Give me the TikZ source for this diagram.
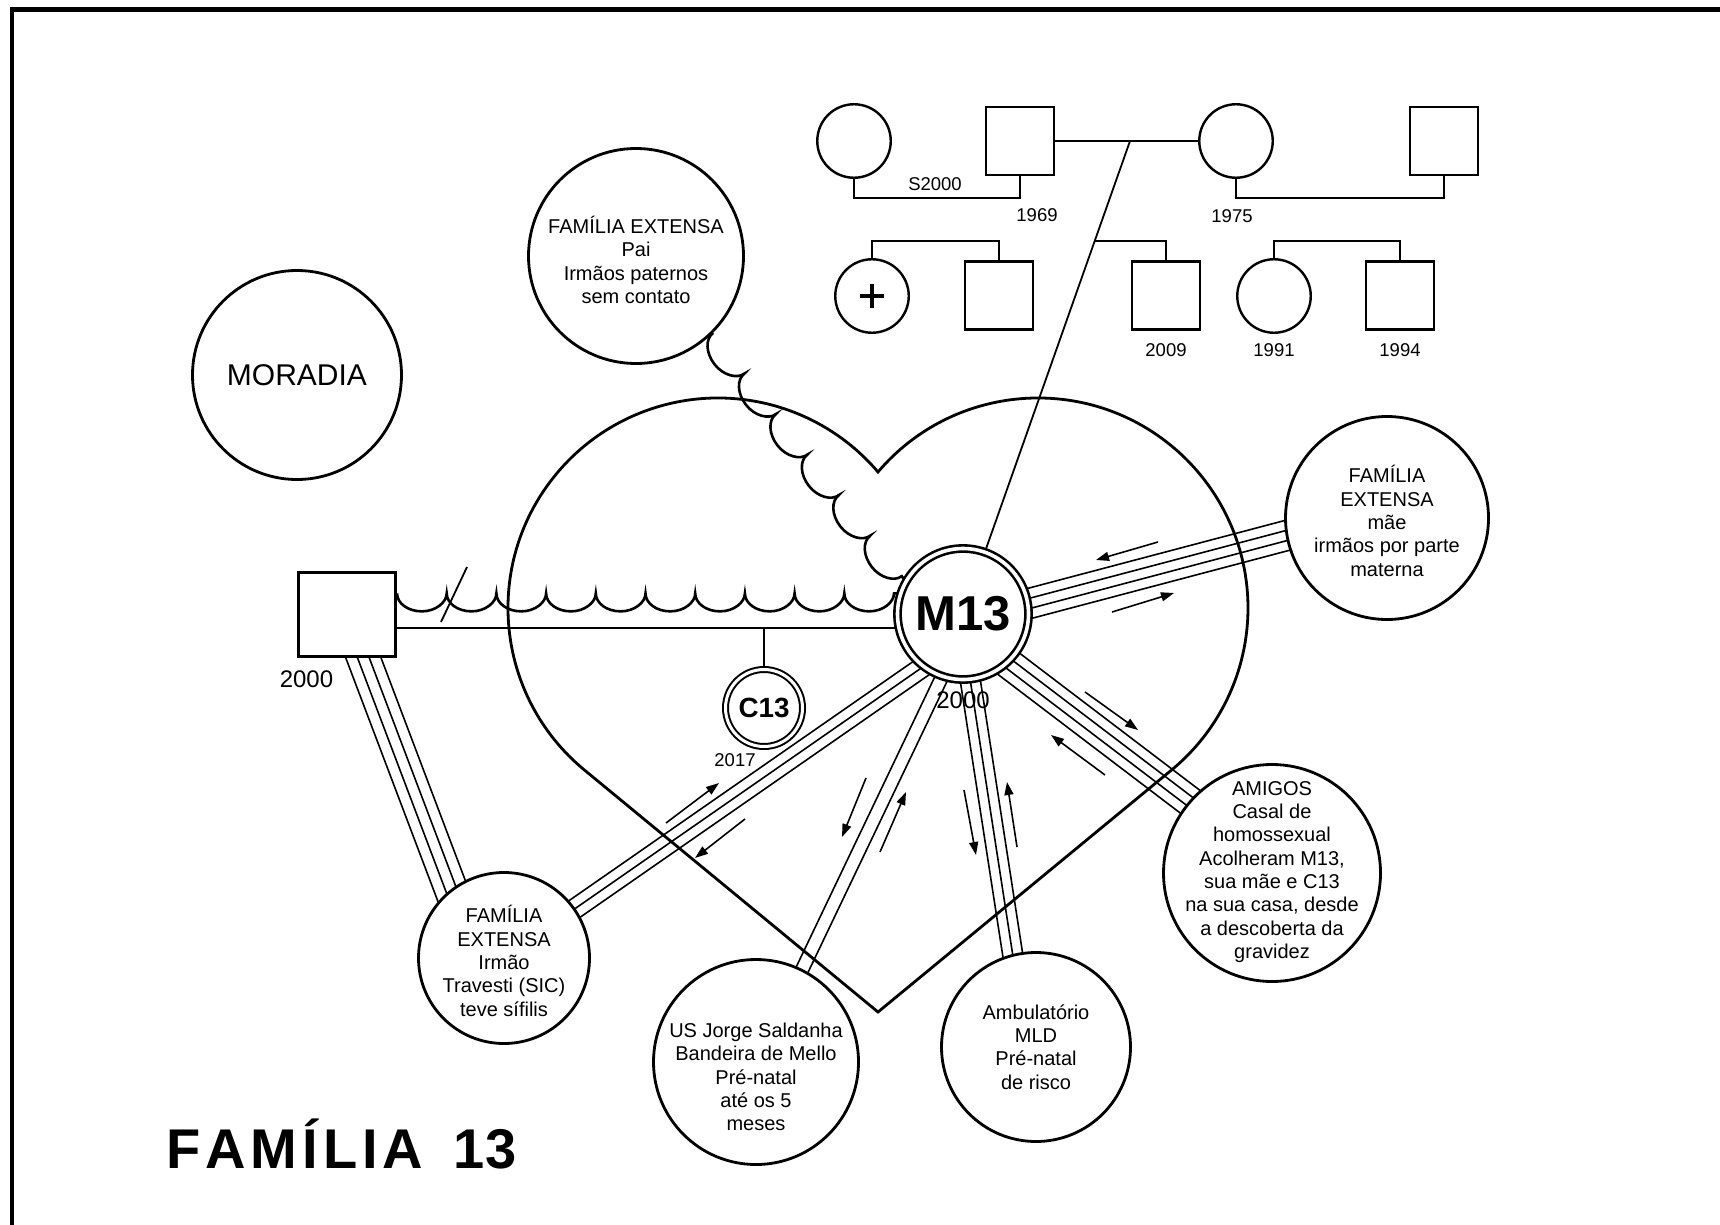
\documentclass[tikz,border=0pt]{standalone}
\usepackage{fontspec}
\setmainfont{Liberation Sans}
\usetikzlibrary{calc,arrows.meta,decorations.pathmorphing}
\pgfdeclarelayer{back}
\pgfsetlayers{back,main}

\tikzset{
  eco/.style={circle, draw, line width=2.8pt, fill=white, inner sep=0pt, minimum size=#1},
  ecotext/.style={align=center, inner sep=0pt, font=\fontsize{20}{23.3}\selectfont},
  ring/.style={circle, draw, fill=white, double, inner sep=0pt},
  geno/.style={draw, line width=2.4pt, fill=white, inner sep=0pt},
  gcirc/.style={geno, circle, minimum size=73.5pt},
  gsq/.style={geno, rectangle, minimum width=68pt, minimum height=68pt},
  gline/.style={line width=2.2pt},
  year/.style={inner sep=0pt, font=\fontsize{18.5}{20}\selectfont},
  bigyear/.style={inner sep=0pt, font=\fontsize{24}{26}\selectfont},
  tie/.style={line width=1.6pt},
  wave/.style={line width=2.6pt, decorate, decoration={bumps, segment length=#1, amplitude=-18pt}},
  flow/.style={line width=1.6pt, -{Triangle[length=13pt,width=9pt]}},
  heartline/.style={line width=2.8pt, line join=miter, miter limit=20},
}
% parallel strokes between two points, offsets in pt
\newcommand\tieset[3]{%
  \foreach \off in {#1}{%
    \draw[tie] ($(#2)!\off pt!90:(#3)$) -- ($(#3)!\off pt!-90:(#2)$);}}

\begin{document}
\begin{tikzpicture}[x=1pt,y=-1pt]
\useasboundingbox (0,0) rectangle (1720,1225);

% page frame
\draw[line width=4.5pt] (12,1260) -- (12,9.5) -- (1760,9.5);

% ---------- genogram ----------
\node[gcirc] (f1) at (854,141) {};
\node[gsq] (m69) at (1020,141) {};
\node[gcirc] (w75) at (1236,141) {};
\node[gsq] (mr) at (1444,141) {};
\node[gcirc] (dec) at (872,296) {};
\node[gsq] (sib) at (999,295.5) {};
\node[gsq] (s09) at (1166,295.5) {};
\node[gcirc] (d91) at (1274,296) {};
\node[gsq] (s94) at (1400,295.5) {};
\draw[line width=4pt] ($(dec)+(-12,0)$) -- ($(dec)+(12,0)$) ($(dec)+(0,-12)$) -- ($(dec)+(0,12)$);

\node[year] (ys2000) at (935,184.5) {S2000};
\node[year] (y1969) at (1037,215) {1969};
\node[year] (y1975) at (1232,216.5) {1975};
\node[year] (y2009) at (1166,350) {2009};
\node[year] (y1991) at (1274,350) {1991};
\node[year] (y1994) at (1400,350) {1994};

% ---------- ecomap ----------
\node[ring, line width=2.6pt, double distance=3.6pt, minimum size=131pt,
      font=\fontsize{49}{50}\selectfont\bfseries] (m13) at (963,614) {M13};
\node[ring, line width=2pt, double distance=3pt, minimum size=77pt,
      font=\fontsize{27.8}{30}\selectfont\bfseries] (c13) at (764,708) {C13};
\node[draw, line width=3pt, fill=white, minimum width=97pt, minimum height=84pt, inner sep=0pt] (sq) at (347,614.5) {};

\node[eco=209pt] (mor) at (297,375) {};
\node[eco=215pt] (pai) at (636,256) {};
\node[eco=171pt] (irmao) at (504,958) {};
\node[eco=205pt] (us) at (756,1062) {};
\node[eco=189pt] (amb) at (1036,1047) {};
\node[eco=217pt] (amigos) at (1272,873) {};
\node[eco=203pt] (mae) at (1387,518) {};

\node[inner sep=0pt, font=\fontsize{30}{32}\selectfont] (mort) at (mor) {MORADIA};
\node[ecotext] (pait) at (636,260) {FAMÍLIA EXTENSA\\Pai\\Irmãos paternos\\sem contato};
\node[ecotext] (irmaot) at (504,961) {FAMÍLIA\\EXTENSA\\Irmão\\Travesti (SIC)\\teve sífilis};
\node[ecotext] (ust) at (756,1077) {US Jorge Saldanha\\Bandeira de Mello\\Pré-natal\\até os 5\\meses};
\node[ecotext] (ambt) at (1036,1047) {Ambulatório\\MLD\\Pré-natal\\de risco};
\node[ecotext] (amigost) at (1272,872) {AMIGOS\\Casal de\\homossexual\\Acolheram M13,\\sua mãe e C13\\na sua casa, desde\\a descoberta da\\gravidez};
\node[ecotext] (maet) at (1387,521) {FAMÍLIA\\EXTENSA\\mãe\\irmãos por parte\\materna};

\node[bigyear] (ysq) at (306.5,679) {2000};
\node[bigyear] (ym13) at (963,700) {2000};
\node[year] (yc13) at (735,760) {2017};

\node[anchor=base west, inner sep=0pt, font=\fontsize{56}{60}\selectfont\bfseries] (title) at (166,1168)
  {F\kern5pt A\kern5pt M\kern5pt Í\kern5pt L\kern5pt I\kern5pt A\kern5pt\ \kern10pt 1\kern1pt 3};

\begin{pgfonlayer}{back}
  % heart
  \draw[heartline] (878,1012) -- (584.4,770)
     arc[start angle=129.5, end angle=319.64, radius=210]
     arc[start angle=220.36, end angle=410.5, radius=210] -- cycle;

  % genogram lines
  \coordinate (mar) at (1130,141);
  \draw[gline] (m69.east) -- (w75.west);
  \draw[gline] (f1.south) -- ++(0,19) -| (m69.south);
  \draw[gline] (w75.south) -- ++(0,19) -| (mr.south);
  \draw[gline] (dec.north) -- ++(0,-17) -| (sib.north);
  \draw[gline] (d91.north) -- ++(0,-17) -| (s94.north);
  \draw[line width=1.8pt] (mar) -- (m13);
  \coordinate (kid) at ($(mar)!0.2114!(m13)$);
  \draw[gline] (kid) -| (s09.north);

  % couple line with child C13
  \coordinate (cpl) at (764,628);
  \draw[line width=2.2pt] (sq.east |- cpl) -- (m13.west |- cpl);
  \draw[line width=2pt] (cpl) -- (c13.north);

  % hostile links
  \coordinate (hw2) at (m13.162);
  \coordinate (hw1) at (sq.east |- hw2);
  \draw[wave=99.4pt] (hw1) -- (hw2);
  \draw[line width=1.8pt] (441,622) -- (467,567);
  \draw[wave=102.6pt] (pai.-45) -- (m13.150);

  % strong links
  \coordinate (ma1) at ($(m13)+(0,7)$);
  \coordinate (ma2) at ($(mae)+(0,-9)$);
  \tieset{-15,-5,5,15}{ma1}{ma2}
  \coordinate (am1) at ($(m13)+(0,15)$);
  \coordinate (am2) at ($(amigos)+(0,-9)$);
  \tieset{-15,-5,5,15}{am1}{am2}
  \coordinate (ab1) at ($(m13)+(-3,0)$);
  \coordinate (ab2) at ($(amb)+(-9,0)$);
  \tieset{-10,0,10}{ab1}{ab2}
  \coordinate (us1) at ($(m13)+(9,0)$);
  \coordinate (us2) at ($(us)+(2,0)$);
  \tieset{-6.5,6.5}{us1}{us2}
  \coordinate (ir1) at ($(m13)+(36,0)$);
  \tieset{-10,0,10}{ir1}{irmao}
  \coordinate (sq2) at ($(irmao)+(-27,0)$);
  \tieset{-16.5,-5.5,5.5,16.5}{sq}{sq2}

  % energy flow
  \draw[flow] (1158,542) -- (1096,560);
  \draw[flow] (1112,612) -- (1174,593);
  \draw[flow] (1085,692) -- (1138,730);
  \draw[flow] (1105,775) -- (1051,735);
  \draw[flow] (964,790) -- (976,855);
  \draw[flow] (1017,847) -- (1007,782);
  \draw[flow] (866,778) -- (842,837);
  \draw[flow] (880,852) -- (906,792);
  \draw[flow] (666,823) -- (719,783);
  \draw[flow] (745,819) -- (695,858);
\end{pgfonlayer}
\end{tikzpicture}
\end{document}
